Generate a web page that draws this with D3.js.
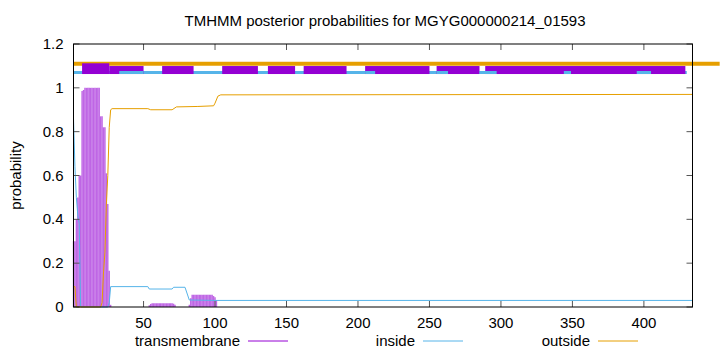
<!DOCTYPE html>
<html lang="en">
	<head>
		<meta charset="utf-8">
		<title>TMHMM posterior probabilities</title>
		<script type="text/javascript" src="https://cdn.jsdelivr.net/npm/d3@7"></script>
		<style>
			body { margin: 0; background: #fff; }
			text { font-family: "Liberation Sans", Arial, sans-serif; font-size: 15px; fill: #000; }
		</style>
	</head>
	<body>
    <script type="text/javascript">
			//data
			var seqLength = 434;
			var xTicks = [50, 100, 150, 200, 250, 300, 350, 400];
			var yTicks = [0, 0.2, 0.4, 0.6, 0.8, 1, 1.2];

			//transmembrane posterior per residue (only non-zero residues)
			var tmResidues = [1, 2, 3, 4, 5, 6, 7, 8, 9, 10, 11, 12, 13, 14, 15, 16, 17, 18, 19, 20, 21, 22, 23, 24, 25, 26, 27,
				54, 55, 56, 57, 58, 59, 60, 61, 62, 63, 64, 65, 66, 67, 68, 69, 70, 71, 72,
				82, 83, 84, 85, 86, 87, 88, 89, 90, 91, 92, 93, 94, 95, 96, 97, 98, 99, 100, 101];
			var tmValues = [0.30, 0.30, 0.40, 0.50, 0.60, 0.60, 0.985, 0.99, 1, 1, 1, 1, 1, 1, 1, 1, 1, 1, 1, 0.87, 0.87, 0.82, 0.82, 0.61, 0.47, 0.165, 0.01,
				0.008, 0.014, 0.017, 0.017, 0.017, 0.017, 0.017, 0.017, 0.017, 0.017, 0.017, 0.017, 0.017, 0.017, 0.017, 0.017, 0.017, 0.015, 0.01,
				0.01, 0.04, 0.056, 0.056, 0.056, 0.056, 0.056, 0.056, 0.056, 0.056, 0.056, 0.056, 0.056, 0.056, 0.056, 0.056, 0.056, 0.05, 0.045, 0.03];

			//inside / outside posterior, as [residue, probability] points
			var insidePoints = [[1, 0.86], [2, 0.64], [3, 0.5], [4, 0.42], [5, 0.38], [6, 0], [25, 0], [26, 0.02], [27, 0.093],
				[53, 0.093], [54, 0.082], [70, 0.082], [71, 0.09], [79, 0.09], [82, 0.032], [100, 0.03], [434, 0.03]];
			var outsidePoints = [[1, 0.093], [2, 0.093], [3, 0], [20, 0], [21, 0.02], [22, 0.16], [23, 0.25], [24, 0.47], [25, 0.6],
				[26, 0.82], [27, 0.9], [28, 0.905], [53, 0.905], [55, 0.9], [70, 0.9], [73, 0.913], [88, 0.915], [99, 0.918],
				[100, 0.93], [102, 0.962], [104, 0.968], [434, 0.97]];

			//predicted topology drawn above the curves, [start, end] residues
			var outsideTop = [[1, 453]];
			var insideTop = [[1, 430]];
			var tmTop = [[7, 26], [26, 50], [63, 85], [105, 130], [137, 156], [162, 192], [205, 250], [255, 285], [289, 429]];
			var insideOver = [[33, 50], [205, 212], [255, 263], [285, 297], [344, 349], [395, 405]];

			var legendNames = ["transmembrane", "inside", "outside"];
			var colors = {tm: "#9400d3", inside: "#56b4e9", outside: "#e69f00"};

			//setup
			var width = 720, height = 352;
			var plotLeft = 73.5, plotRight = 692.5, plotTop = 44, plotBottom = 307;

			var svg = d3.select("body")
						.append("svg")
						.attr("width", width)
						.attr("height", height);

			var x = d3.scaleLinear().domain([1, seqLength]).range([plotLeft, plotRight]);
			var y = d3.scaleLinear().domain([0, 1.2]).range([plotBottom, plotTop]);

			//title + y label
			svg.append("text")
				.attr("x", 385).attr("y", 26)
				.attr("text-anchor", "middle")
				.text("TMHMM posterior probabilities for MGYG000000214_01593");

			svg.append("text")
				.attr("transform", "translate(21," + ((plotTop + plotBottom) / 2) + ") rotate(-90)")
				.attr("text-anchor", "middle")
				.text("probability");

			//impulses for transmembrane
			svg.append("g").selectAll("line")
				.data(tmResidues)
				.enter().append("line")
					.attr("x1", function(d) { return x(d); })
					.attr("x2", function(d) { return x(d); })
					.attr("y1", y(0))
					.attr("y2", function(d, i) { return y(tmValues[i]); })
					.attr("stroke", colors.tm)
					.attr("stroke-opacity", 0.6)
					.attr("stroke-width", 1.4);

			var line = d3.line()
				.x(function(d) { return x(d[0]); })
				.y(function(d) { return y(d[1]); });

			svg.append("path").datum(insidePoints)
				.attr("d", line).attr("fill", "none")
				.attr("stroke", colors.inside).attr("stroke-width", 1);

			svg.append("path").datum(outsidePoints)
				.attr("d", line).attr("fill", "none")
				.attr("stroke", colors.outside).attr("stroke-width", 1);

			//topology bars
			svg.append("g").selectAll("line")
				.data(outsideTop)
				.enter().append("line")
					.attr("x1", function(d) { return x(d[0]); })
					.attr("x2", function(d) { return x(d[1]); })
					.attr("y1", y(1.11)).attr("y2", y(1.11))
					.attr("stroke", colors.outside).attr("stroke-width", 4);

			svg.append("g").selectAll("line")
				.data(insideTop)
				.enter().append("line")
					.attr("x1", function(d) { return x(d[0]); })
					.attr("x2", function(d) { return x(d[1]); })
					.attr("y1", y(1.07)).attr("y2", y(1.07))
					.attr("stroke", colors.inside).attr("stroke-width", 3);

			svg.append("g").selectAll("rect")
				.data(tmTop)
				.enter().append("rect")
					.attr("x", function(d) { return x(d[0]); })
					.attr("width", function(d) { return x(d[1]) - x(d[0]); })
					.attr("y", function(d, i) { return i == 0 ? y(1.112) : y(1.0995); })
					.attr("height", function(d, i) { return i == 0 ? y(1.063) - y(1.112) : y(1.063) - y(1.0995); })
					.attr("fill", colors.tm);

			svg.append("g").selectAll("line")
				.data(insideOver)
				.enter().append("line")
					.attr("x1", function(d) { return x(d[0]); })
					.attr("x2", function(d) { return x(d[1]); })
					.attr("y1", y(1.07)).attr("y2", y(1.07))
					.attr("stroke", colors.inside).attr("stroke-width", 3);

			//axes, ticks point inward and are mirrored
			var tickLen = 6;
			var g = svg.append("g").attr("stroke", "#555").attr("stroke-width", 1);
			xTicks.forEach(function(t) {
				g.append("line").attr("x1", x(t)).attr("x2", x(t)).attr("y1", plotBottom).attr("y2", plotBottom - tickLen);
				g.append("line").attr("x1", x(t)).attr("x2", x(t)).attr("y1", plotTop).attr("y2", plotTop + tickLen);
			});
			yTicks.forEach(function(t) {
				g.append("line").attr("x1", plotLeft).attr("x2", plotLeft + tickLen).attr("y1", y(t)).attr("y2", y(t));
				g.append("line").attr("x1", plotRight).attr("x2", plotRight - tickLen).attr("y1", y(t)).attr("y2", y(t));
			});
			svg.append("rect")
				.attr("x", plotLeft).attr("y", plotTop)
				.attr("width", plotRight - plotLeft).attr("height", plotBottom - plotTop)
				.attr("fill", "none").attr("stroke", "#000").attr("stroke-width", 1);

			svg.append("g").selectAll("text")
				.data(xTicks)
				.enter().append("text")
					.attr("x", function(d) { return x(d); })
					.attr("y", plotBottom + 21)
					.attr("text-anchor", "middle")
					.text(function(d) { return d; });

			svg.append("g").selectAll("text")
				.data(yTicks)
				.enter().append("text")
					.attr("x", plotLeft - 10)
					.attr("y", function(d) { return y(d) + 5; })
					.attr("text-anchor", "end")
					.text(function(d) { return d; });

			//legend
			var legendX = [240, 415, 590];
			var legendColors = [colors.tm, colors.inside, colors.outside];
			legendNames.forEach(function(name, i) {
				svg.append("text")
					.attr("x", legendX[i]).attr("y", 346)
					.attr("text-anchor", "end")
					.text(name);
				svg.append("line")
					.attr("x1", legendX[i] + 8).attr("x2", legendX[i] + 48)
					.attr("y1", 341).attr("y2", 341)
					.attr("stroke", legendColors[i]).attr("stroke-width", 1);
			});
    </script>
  </body>
</html>
